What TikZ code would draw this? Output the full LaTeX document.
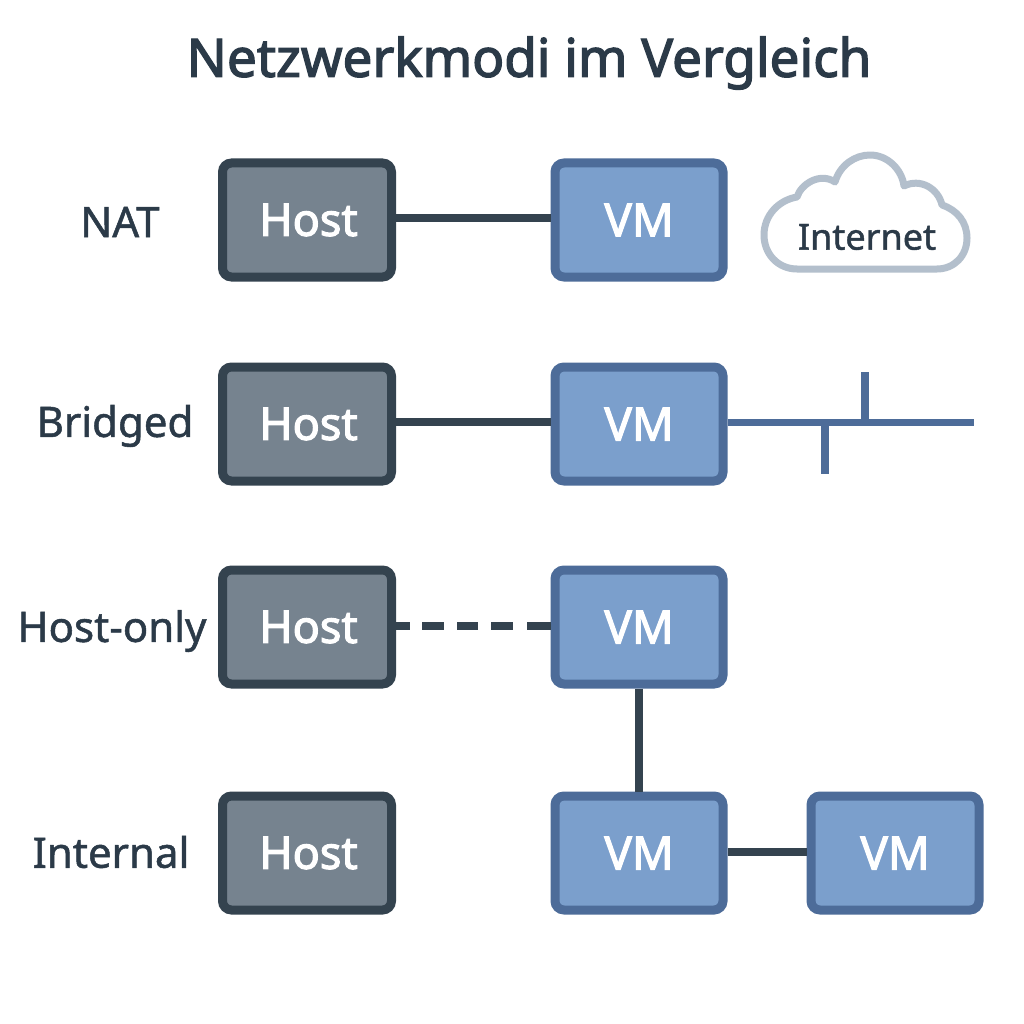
\documentclass[tikz,border=0pt]{standalone}
\usepackage{fontspec}
\setmainfont{Noto Sans}
\newfontfamily\semib[FakeBold=2.5]{Noto Sans}
\newfontfamily\medi[FakeBold=1.2]{Noto Sans}
\definecolor{ink}{HTML}{2B3A48}
\definecolor{hostfill}{HTML}{76838F}
\definecolor{hostedge}{HTML}{34434F}
\definecolor{vmfill}{HTML}{7B9FCC}
\definecolor{vmedge}{HTML}{4D6C99}
\definecolor{cloudedge}{HTML}{B3BFCC}
\newcommand{\boxtext}[1]{\raisebox{-1.5pt}{#1}}
\tikzset{
 x=1pt,y=-1pt,
 hostbox/.style={draw=hostedge,fill=hostfill,line width=9pt,rounded corners=9pt,minimum width=169pt,minimum height=114pt,inner sep=0pt,text=white,font=\semib\fontsize{45}{45}\selectfont},
 vmbox/.style={draw=vmedge,fill=vmfill,line width=9pt,rounded corners=9pt,minimum width=168pt,minimum height=114pt,inner sep=0pt,text=white,font=\semib\fontsize{46}{46}\selectfont},
 rowlabel/.style={text=ink,font=\medi\fontsize{42}{42}\selectfont,inner sep=0pt},
 darkline/.style={draw=hostedge,line width=8pt},
 netline/.style={draw=vmedge,line width=7pt},
}
\begin{document}
\begin{tikzpicture}
\useasboundingbox (0,0) rectangle (1024,1024);
\fill[white] (0,0) rectangle (1024,1024);
\node[text=ink,font=\semib\fontsize{53}{53}\selectfont,inner sep=0pt] (title) at (529,63) {Netzwerkmodi im Vergleich};
\node[rowlabel] (l1) at (120,222) {NAT};
\node[rowlabel] (l2) at (115,426) {Bridged};
\node[rowlabel] (l3) at (112,631) {Host-only};
\node[rowlabel] (l4) at (111,852) {Internal};
\node[hostbox] (h1) at (307,220) {\hspace{3pt}\boxtext{Host}};
\node[hostbox] (h2) at (307,424) {\hspace{3pt}\boxtext{Host}};
\node[hostbox] (h3) at (307,627) {\hspace{3pt}\boxtext{Host}};
\node[hostbox] (h4) at (307,853) {\hspace{3pt}\boxtext{Host}};
\node[vmbox] (v1) at (639,220) {\boxtext{VM}};
\node[vmbox] (v2) at (639,424) {\boxtext{VM}};
\node[vmbox] (v3) at (639,627) {\boxtext{VM}};
\node[vmbox] (v4) at (639,853) {\boxtext{VM}};
\node[vmbox] (v5) at (895,853) {\boxtext{VM}};
\draw[darkline] ([yshift=2pt]h1.east) -- ([yshift=2pt]v1.west);
\draw[darkline] ([yshift=2.5pt]h2.east) -- ([yshift=2.5pt]v2.west);
\draw[darkline,dash pattern=on 14pt off 12pt on 22pt off 13pt on 21pt off 13pt on 22pt off 14pt on 30pt off 10pt] ([yshift=1pt]h3.east) -- ([yshift=1pt]v3.west);
\draw[darkline] (v3) -- (v4);
\draw[darkline] ([yshift=1pt]v4.east) -- ([yshift=1pt]v5.west);
\coordinate (busend) at (974,422);
\coordinate (tapa) at (865,422);
\coordinate (tapaend) at (865,372);
\coordinate (tapb) at (825,422);
\coordinate (tapbend) at (825,474);
\draw[netline] (v2.east |- busend) -- (busend);
\draw[netline,line width=8pt] (tapa) -- (tapaend);
\draw[netline,line width=8pt] (tapb) -- (tapbend);
\draw[draw=cloudedge,fill=white,line width=7pt,line join=round]
 (797,269) .. controls (778,269) and (764,254) .. (764,235)
 .. controls (764,215) and (779,200) .. (797,197)
 .. controls (801,184) and (820,172) .. (835,182)
 .. controls (840,165) and (855,155) .. (870,155)
 .. controls (888,155) and (902,170) .. (904,186)
 .. controls (920,178) and (938,188) .. (942,205)
 .. controls (957,210) and (967,222) .. (967,238)
 .. controls (967,256) and (954,269) .. (937,269)
 -- cycle;
\node[text=ink,font=\medi\fontsize{36}{36}\selectfont,inner sep=0pt] (net) at (867,237) {Internet};
\end{tikzpicture}
\end{document}
